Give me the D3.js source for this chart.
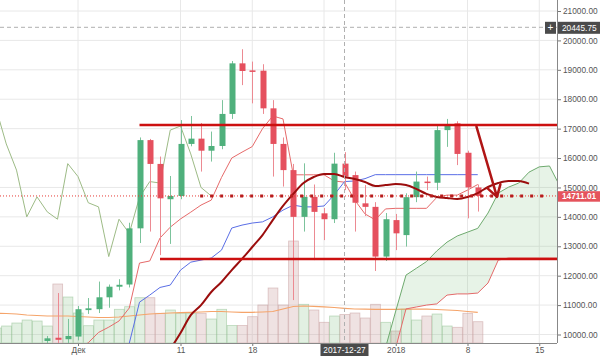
<!DOCTYPE html>
<html><head><meta charset="utf-8">
<script src="https://cdn.jsdelivr.net/npm/d3@7"></script>
<style>
body{margin:0;background:#fff}
svg{display:block;font-family:"Liberation Sans",Arial,sans-serif}
</style>
</head><body>
<svg id="chart" width="600" height="356"></svg>
<script>
// ---------- DATA ----------
// daily candles 2017-11-28 .. 2018-01-09
const opens  = [9780,9890,9840,9930,10830,10860,11265,11625,11700,13610,16610,15800,14600,14710,16480,16660,16250,16410,17500,19220,18980,18970,17690,16480,15590,14000,14680,14120,13920,15810,15420,14460,14340,12650,13890,13380,14670,15200,15160,16950,17180,16180,15000];
const highs  = [9950,11410,10530,10970,11240,11800,11700,11880,13800,16700,16650,16050,15390,17290,17430,17190,16900,17970,19300,19700,19280,19190,17970,16700,15800,15820,15100,14300,16180,16200,15540,15080,14500,14130,14100,14800,15540,15370,17100,17330,17250,16250,15100];
const lows   = [9700,9000,9500,9800,10700,10730,10910,11500,11600,13110,13500,12700,13080,14600,16400,15540,15880,16300,17330,18480,17860,17500,15370,15030,11170,13500,12530,13210,13790,14910,13500,14030,12160,12500,12870,12990,14500,14910,14910,16380,15760,13950,14180];
const closes = [9870,9820,9950,10860,10890,11265,11625,11690,13610,16610,15800,14630,14710,16480,16660,16250,16410,17500,19220,18960,18930,17690,16480,15590,14000,14680,14170,13920,15810,15370,14480,14340,12650,13920,13440,14670,15200,15150,16950,17090,16140,15000,14711.01];
// Ichimoku conversion (tenkan) and base (kijun) lines, same days as candles
const tenkan = [8900,9100,9300,9500,9720,10070,10250,10460,10900,12430,12500,13280,13650,13930,14160,14400,14570,15340,16000,16200,16390,17000,17430,17330,15430,15430,15430,15430,15220,15180,14570,14100,13900,14270,14290,14290,14290,14290,14660,14740,14740,14910,15100];
const kijun  = [8200,8300,8500,8700,8900,9100,9300,9500,9700,11100,11340,11600,11680,12190,12460,12530,12600,12870,13620,13720,13790,13830,14000,14230,14400,14340,14340,14370,14750,15200,15220,15300,15435,15435,15435,15435,15435,15435,15435,15435,15435,15435,15435];
// cloud spans 2017-12-30 .. 2018-01-17
const senkouA = [9100,9550,10800,12020,12250,12480,12840,13140,13350,13480,13610,14130,14810,15010,15150,15520,15700,15730,15050];
const senkouB = [8500,9000,9550,10870,10935,11000,11040,11340,11380,11380,11410,11750,12530,12600,12600,12600,12600,12600,12600];
// hand-drawn dark red curve 2017-12-10 .. 2018-01-14
const curveVals = [9500,10050,10660,11000,11445,11785,12190,12570,12975,13380,13890,14370,14780,15150,15355,15460,15460,15355,15290,15185,15050,15080,15115,15080,14950,14780,14675,14640,14610,14675,14810,15015,15150,15220,15220,15130];
// volume 2017-11-23 .. 2018-01-09 and its moving average
const volumes = [150,170,200,230,220,170,590,460,300,173,230,230,337,363,453,453,297,330,297,297,297,240,337,175,175,263,380,550,380,1020,387,330,207,270,285,300,250,387,207,120,337,230,270,290,170,157,297,213];
const volumeMA = [297,295,290,280,275,270,270,270,265,260,255,255,260,270,280,290,295,300,303,307,310,315,315,310,307,307,310,315,340,365,370,367,362,355,347,340,338,337,337,337,338,340,338,335,330,325,315,307];
// axes
const yTicks = [10000,11000,12000,13000,14000,15000,16000,17000,18000,19000,20000,21000];
const xTickDates = [new Date(2017,11,1),new Date(2017,11,11),new Date(2017,11,18),new Date(2017,11,25),new Date(2018,0,1),new Date(2018,0,8),new Date(2018,0,15)];
const xTickLabels = ["Дек","11","18","","2018","8","15"];
// annotations
const levels = [{from:new Date(2017,11,7), price:17120},{from:new Date(2017,11,9), price:12570}];
const lastPrice = 14711.01;
const thickDots = {from:new Date(2017,11,12,22), to:new Date(2018,0,15,20), price:14711.01};
const arrow = {from:{date:new Date(2018,0,8,21), price:17070}, to:{date:new Date(2018,0,10,21), price:14680}};
const crossDate = new Date(2017,11,27), crossPrice = 20445.75;

// ---------- DRAW ----------
const candleDates = d3.timeDay.range(new Date(2017,10,28), new Date(2018,0,10));
const volumeDates = d3.timeDay.range(new Date(2017,10,23), new Date(2018,0,10));
const cloudDates  = d3.timeDay.range(new Date(2017,11,30), new Date(2018,0,18));
const curveDates  = d3.timeDay.range(new Date(2017,11,10), new Date(2018,0,15));

const PR = 557, PB = 343;
const svg = d3.select("#chart");
const x = d3.scaleTime().domain([new Date(2017,11,1), new Date(2018,0,15)]).range([78, 539.25]);
const y = d3.scaleLinear().domain([10000,21000]).range([334.5, 11]);
const vy = d3.scaleLinear().domain([0,1000]).range([PB, PB-100]);
const dayW = x(new Date(2017,11,2)) - x(new Date(2017,11,1));

svg.append("defs").append("clipPath").attr("id","clip")
  .append("rect").attr("x",0).attr("y",0).attr("width",PR).attr("height",PB);

// grid
const grid = svg.append("g");
grid.selectAll("line.h").data(yTicks).join("line")
  .attr("x1",0).attr("x2",PR).attr("y1",d=>y(d)).attr("y2",d=>y(d))
  .attr("stroke","#e8e8e8").attr("stroke-width",1);
grid.selectAll("line.v").data(xTickDates).join("line")
  .attr("x1",d=>x(d)).attr("x2",d=>x(d)).attr("y1",0).attr("y2",PB)
  .attr("stroke","#e8e8e8").attr("stroke-width",1);

const plot = svg.append("g").attr("clip-path","url(#clip)");

// volume
const candleMap = new Map(candleDates.map((d,i)=>[+d,i]));
const volUp = volumeDates.map(d=>{const i=candleMap.get(+d); return i===undefined ? true : closes[i]>=opens[i];});
plot.append("g").selectAll("rect").data(volumes).join("rect")
  .attr("x",(v,i)=>x(volumeDates[i])-dayW/2+0.5)
  .attr("width",dayW-0.5)
  .attr("y",v=>vy(v)).attr("height",v=>PB-vy(v))
  .attr("fill",(v,i)=>volUp[i]?"rgba(150,200,150,0.28)":"rgba(205,165,165,0.32)")
  .attr("stroke",(v,i)=>volUp[i]?"rgba(140,190,140,0.55)":"rgba(200,160,160,0.6)")
  .attr("stroke-width",0.8);
plot.append("path").datum(volumeMA)
  .attr("d",d3.line().x((v,i)=>x(volumeDates[i])).y(v=>vy(v)))
  .attr("fill","none").attr("stroke","#f5a46a").attr("stroke-width",1.2);

// cloud
plot.append("path").datum(senkouA)
  .attr("d",d3.area().x((v,i)=>x(cloudDates[i])).y0((v,i)=>y(senkouB[i])).y1(v=>y(v)))
  .attr("fill","rgba(110,185,110,0.17)");
plot.append("path").datum(senkouA)
  .attr("d",d3.line().x((v,i)=>x(cloudDates[i])).y(v=>y(v)))
  .attr("fill","none").attr("stroke","#6eaa6e").attr("stroke-width",1);
plot.append("path").datum(senkouB)
  .attr("d",d3.line().x((v,i)=>x(cloudDates[i])).y(v=>y(v)))
  .attr("fill","none").attr("stroke","#e46a6a").attr("stroke-width",1);

// chikou (closes lagged 26 days)
plot.append("path").datum(closes)
  .attr("d",d3.line().x((v,i)=>x(d3.timeDay.offset(candleDates[i],-26))).y(v=>y(v)))
  .attr("fill","none").attr("stroke","#9dbb86").attr("stroke-width",1);
// tenkan / kijun
plot.append("path").datum(tenkan)
  .attr("d",d3.line().x((v,i)=>x(candleDates[i])).y(v=>y(v)))
  .attr("fill","none").attr("stroke","#e66a6a").attr("stroke-width",1);
plot.append("path").datum(kijun)
  .attr("d",d3.line().x((v,i)=>x(candleDates[i])).y(v=>y(v)))
  .attr("fill","none").attr("stroke","#5a6ee6").attr("stroke-width",1);

// candles
const UP="#4fb07c", DN="#e5505e";
const cg = plot.append("g");
cg.selectAll("line").data(candleDates).join("line")
  .attr("x1",d=>Math.round(x(d))+0.5).attr("x2",d=>Math.round(x(d))+0.5)
  .attr("y1",(d,i)=>y(highs[i])).attr("y2",(d,i)=>y(lows[i]))
  .attr("stroke",(d,i)=>closes[i]>=opens[i]?"#7cc39c":"#ec8a92").attr("stroke-width",1);
cg.selectAll("rect").data(candleDates).join("rect")
  .attr("x",d=>Math.round(x(d))-2.5).attr("width",6)
  .attr("y",(d,i)=>y(Math.max(opens[i],closes[i])))
  .attr("height",(d,i)=>Math.max(1.5,Math.abs(y(opens[i])-y(closes[i]))))
  .attr("fill",(d,i)=>closes[i]>=opens[i]?UP:DN);

// thick dark red curve
plot.append("path").datum(curveVals)
  .attr("d",d3.line().curve(d3.curveMonotoneX).x((v,i)=>x(curveDates[i])).y(v=>y(v)))
  .attr("fill","none").attr("stroke","#9b0d0d").attr("stroke-width",2);

// level lines
plot.selectAll("line.lvl").data(levels).join("line")
  .attr("x1",d=>x(d.from)).attr("x2",PR).attr("y1",d=>y(d.price)).attr("y2",d=>y(d.price))
  .attr("stroke","#cc1010").attr("stroke-width",2.5);

// last price dotted lines
plot.append("line").attr("x1",0).attr("x2",PR).attr("y1",y(lastPrice)).attr("y2",y(lastPrice))
  .attr("stroke","#e53935").attr("stroke-width",1).attr("stroke-dasharray","1,2");
plot.append("line").attr("x1",x(thickDots.from)).attr("x2",x(thickDots.to))
  .attr("y1",y(thickDots.price)).attr("y2",y(thickDots.price))
  .attr("stroke","#b71c1c").attr("stroke-width",3).attr("stroke-dasharray","3,7");

// arrow
{
  const x1=x(arrow.from.date), y1=y(arrow.from.price), x2=x(arrow.to.date), y2=y(arrow.to.price);
  const a=Math.atan2(y2-y1,x2-x1), L=13, s=0.55;
  const p = `M${x1},${y1}L${x2},${y2}M${x2-L*Math.cos(a-s)},${y2-L*Math.sin(a-s)}L${x2},${y2}L${x2-L*Math.cos(a+s)},${y2-L*Math.sin(a+s)}`;
  plot.append("path").attr("d",p).attr("fill","none").attr("stroke","#b01515")
    .attr("stroke-width",2.5).attr("stroke-linecap","round").attr("stroke-linejoin","round");
}

// crosshair
svg.append("line").attr("x1",x(crossDate)).attr("x2",x(crossDate)).attr("y1",0).attr("y2",PB)
  .attr("stroke","#b0b0b0").attr("stroke-dasharray","4,3");
svg.append("line").attr("x1",0).attr("x2",PR).attr("y1",y(crossPrice)).attr("y2",y(crossPrice))
  .attr("stroke","#b0b0b0").attr("stroke-dasharray","4,3");

// axes
const fs = "8.3px";
const ya = svg.append("g").attr("transform",`translate(${PR},0)`)
  .call(d3.axisRight(y).tickValues(yTicks).tickFormat(d=>d.toFixed(2)).tickSize(4).tickPadding(2));
ya.select(".domain").remove();
ya.selectAll("line").attr("stroke","#777");
ya.selectAll("text").attr("fill","#555").style("font-size",fs).style("font-family","Liberation Sans, Arial, sans-serif");
svg.append("line").attr("x1",PR+0.5).attr("x2",PR+0.5).attr("y1",0).attr("y2",PB).attr("stroke","#888");

const xa = svg.append("g").attr("transform",`translate(0,${PB})`)
  .call(d3.axisBottom(x).tickValues(xTickDates).tickFormat((d,i)=>xTickLabels[i]).tickSize(3).tickPadding(1));
xa.select(".domain").remove();
xa.selectAll("line").attr("stroke","#777");
xa.selectAll("text").attr("fill","#555").style("font-size",fs).style("font-family","Liberation Sans, Arial, sans-serif");
svg.append("line").attr("x1",0).attr("x2",PR).attr("y1",PB+0.5).attr("y2",PB+0.5).attr("stroke","#888");

// price labels
function priceBox(price, bg, bold, h){
  const yy=y(price);
  svg.append("rect").attr("x",PR+1).attr("y",yy-h/2+0.5).attr("width",600-PR-1).attr("height",h).attr("fill",bg);
  svg.append("text").attr("x",PR+5).attr("y",yy+3.3).attr("fill","#fff").style("font-size",fs)
    .style("font-weight",bold?"bold":"normal").text(price.toFixed(2));
}
priceBox(crossPrice,"#4b4b4b",false,12);
svg.append("rect").attr("x",545).attr("y",y(crossPrice)-5.5).attr("width",11).attr("height",12).attr("fill","#4b4b4b");
svg.append("text").attr("x",550.5).attr("y",y(crossPrice)+3.8).attr("text-anchor","middle").attr("fill","#fff").style("font-size","10px").text("+");
priceBox(lastPrice,"#e5535c",true,10.5);

// date label
{
  const cx=x(crossDate);
  svg.append("rect").attr("x",cx-24).attr("y",PB+1).attr("width",48).attr("height",12).attr("fill","#4b4b4b");
  svg.append("text").attr("x",cx).attr("y",PB+10).attr("text-anchor","middle").attr("fill","#fff")
    .style("font-size",fs).text(d3.timeFormat("%Y-%m-%d")(crossDate));
}
</script>
</body></html>
